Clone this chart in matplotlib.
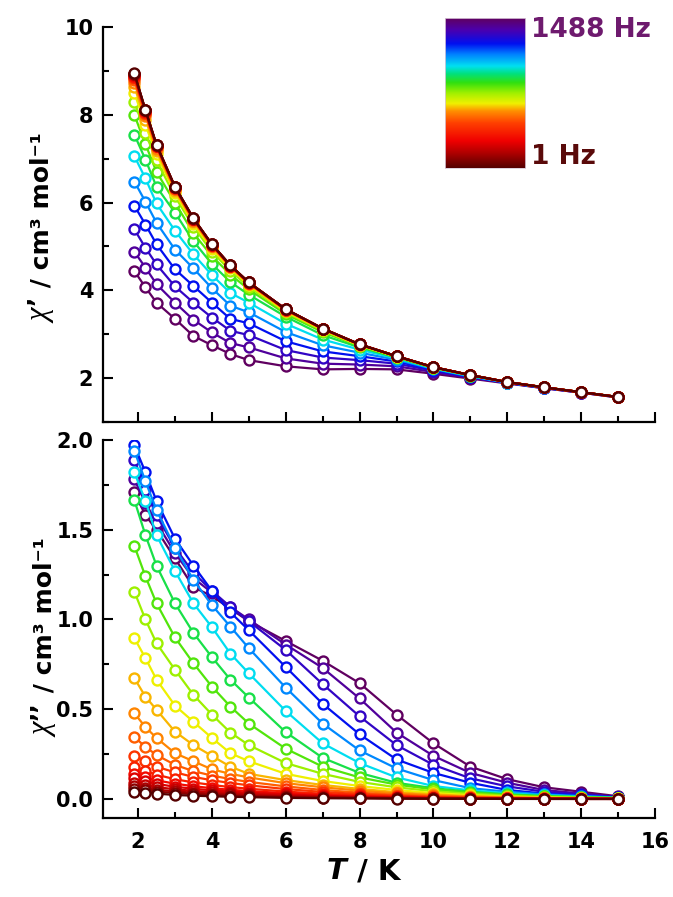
import numpy as np
import matplotlib
matplotlib.use("Agg")
import matplotlib.pyplot as plt
from matplotlib.colors import LinearSegmentedColormap
from matplotlib.ticker import MultipleLocator, FormatStrFormatter

plt.rcParams['font.family'] = ['DejaVu Sans']
plt.rcParams['font.weight'] = 'bold'

# ---------------- data ----------------
temperatures = [1.9, 2.2, 2.5, 3, 3.5, 4, 4.5, 5, 6, 7, 8, 9, 10, 11, 12, 13, 14, 15]
frequencies = [1, 1.5, 2, 3, 4.5, 6.5, 10, 14, 20, 30, 45, 65, 95, 140, 200,
               300, 440, 640, 940, 1200, 1488]

# chi' : one row per temperature, columns = frequencies (1 Hz ... 1488 Hz)
chi1_by_T = [
    [8.95, 8.94, 8.93, 8.92, 8.90, 8.88, 8.86, 8.83, 8.79, 8.73, 8.64, 8.50, 8.30, 8.00, 7.55, 7.06, 6.48, 5.93, 5.39, 4.88, 4.44],
    [8.11, 8.11, 8.10, 8.10, 8.09, 8.08, 8.07, 8.05, 8.02, 7.97, 7.89, 7.77, 7.58, 7.33, 6.98, 6.55, 6.02, 5.50, 4.97, 4.52, 4.07],
    [7.32, 7.32, 7.31, 7.31, 7.30, 7.30, 7.29, 7.28, 7.26, 7.23, 7.18, 7.10, 6.96, 6.70, 6.36, 5.98, 5.54, 5.05, 4.59, 4.14, 3.72],
    [6.36, 6.36, 6.36, 6.35, 6.35, 6.35, 6.34, 6.33, 6.32, 6.30, 6.27, 6.22, 6.14, 6.00, 5.77, 5.36, 4.93, 4.48, 4.09, 3.72, 3.35],
    [5.64, 5.64, 5.64, 5.63, 5.63, 5.63, 5.62, 5.62, 5.61, 5.59, 5.56, 5.52, 5.45, 5.30, 5.12, 4.82, 4.50, 4.10, 3.72, 3.33, 2.96],
    [5.05, 5.05, 5.05, 5.05, 5.04, 5.04, 5.04, 5.03, 5.02, 5.01, 4.99, 4.95, 4.88, 4.78, 4.60, 4.35, 4.05, 3.72, 3.38, 3.04, 2.75],
    [4.57, 4.57, 4.57, 4.57, 4.56, 4.56, 4.56, 4.56, 4.55, 4.54, 4.53, 4.50, 4.45, 4.36, 4.19, 3.94, 3.65, 3.35, 3.08, 2.80, 2.55],
    [4.18, 4.18, 4.18, 4.18, 4.18, 4.17, 4.17, 4.17, 4.16, 4.15, 4.14, 4.12, 4.08, 4.02, 3.90, 3.72, 3.50, 3.25, 2.98, 2.70, 2.41],
    [3.57, 3.57, 3.57, 3.57, 3.57, 3.57, 3.56, 3.56, 3.56, 3.55, 3.54, 3.52, 3.50, 3.46, 3.40, 3.24, 3.05, 2.84, 2.64, 2.45, 2.27],
    [3.13, 3.13, 3.13, 3.13, 3.13, 3.13, 3.13, 3.12, 3.12, 3.12, 3.11, 3.10, 3.08, 3.05, 2.98, 2.88, 2.75, 2.61, 2.47, 2.33, 2.20],
    [2.77, 2.77, 2.77, 2.77, 2.77, 2.77, 2.77, 2.77, 2.77, 2.76, 2.76, 2.75, 2.74, 2.73, 2.70, 2.65, 2.58, 2.50, 2.41, 2.31, 2.21],
    [2.50, 2.50, 2.50, 2.50, 2.50, 2.50, 2.50, 2.50, 2.50, 2.50, 2.50, 2.49, 2.49, 2.48, 2.47, 2.45, 2.42, 2.38, 2.33, 2.27, 2.20],
    [2.25, 2.25, 2.25, 2.25, 2.25, 2.25, 2.25, 2.25, 2.25, 2.25, 2.25, 2.25, 2.24, 2.24, 2.23, 2.22, 2.21, 2.19, 2.17, 2.14, 2.10],
    [2.07, 2.07, 2.07, 2.07, 2.07, 2.07, 2.07, 2.07, 2.07, 2.07, 2.07, 2.07, 2.07, 2.06, 2.06, 2.05, 2.04, 2.03, 2.02, 2.01, 1.99],
    [1.91, 1.91, 1.91, 1.91, 1.91, 1.91, 1.91, 1.91, 1.91, 1.91, 1.91, 1.91, 1.91, 1.91, 1.91, 1.90, 1.90, 1.90, 1.89, 1.89, 1.88],
    [1.79, 1.79, 1.79, 1.79, 1.79, 1.79, 1.79, 1.79, 1.79, 1.79, 1.79, 1.79, 1.79, 1.79, 1.79, 1.79, 1.78, 1.78, 1.78, 1.77, 1.77],
    [1.68, 1.68, 1.68, 1.68, 1.68, 1.68, 1.68, 1.68, 1.68, 1.68, 1.68, 1.68, 1.68, 1.68, 1.68, 1.68, 1.68, 1.68, 1.67, 1.67, 1.67],
    [1.57, 1.57, 1.57, 1.57, 1.57, 1.57, 1.57, 1.57, 1.57, 1.57, 1.57, 1.57, 1.57, 1.57, 1.57, 1.57, 1.57, 1.57, 1.57, 1.56, 1.56],
]

# chi'' : one row per frequency (1 Hz ... 1488 Hz), columns = temperatures
chi2_by_f = [
    [0.040, 0.035, 0.030, 0.022, 0.018, 0.015, 0.012, 0.010, 0.006, 0.004, 0.003, 0.002, 0.001, 0.001, 0.000, 0.000, 0.000, 0.000],
    [0.055, 0.048, 0.041, 0.033, 0.027, 0.022, 0.018, 0.015, 0.010, 0.007, 0.005, 0.003, 0.002, 0.001, 0.001, 0.000, 0.000, 0.000],
    [0.070, 0.060, 0.052, 0.042, 0.035, 0.030, 0.025, 0.021, 0.014, 0.010, 0.007, 0.004, 0.003, 0.002, 0.001, 0.001, 0.000, 0.000],
    [0.090, 0.077, 0.066, 0.054, 0.045, 0.038, 0.032, 0.027, 0.019, 0.013, 0.009, 0.006, 0.004, 0.002, 0.001, 0.001, 0.000, 0.000],
    [0.115, 0.098, 0.084, 0.068, 0.057, 0.048, 0.041, 0.035, 0.025, 0.017, 0.012, 0.008, 0.005, 0.003, 0.002, 0.001, 0.001, 0.000],
    [0.140, 0.120, 0.104, 0.085, 0.071, 0.060, 0.051, 0.044, 0.032, 0.022, 0.015, 0.010, 0.006, 0.004, 0.002, 0.001, 0.001, 0.000],
    [0.180, 0.155, 0.135, 0.110, 0.092, 0.078, 0.066, 0.057, 0.041, 0.029, 0.020, 0.013, 0.008, 0.005, 0.003, 0.002, 0.001, 0.001],
    [0.240, 0.210, 0.180, 0.148, 0.123, 0.104, 0.089, 0.076, 0.055, 0.039, 0.027, 0.018, 0.011, 0.007, 0.004, 0.003, 0.002, 0.001],
    [0.345, 0.290, 0.245, 0.190, 0.155, 0.130, 0.111, 0.095, 0.070, 0.050, 0.035, 0.023, 0.015, 0.010, 0.006, 0.004, 0.002, 0.001],
    [0.478, 0.400, 0.340, 0.255, 0.210, 0.165, 0.140, 0.120, 0.088, 0.065, 0.046, 0.031, 0.020, 0.013, 0.008, 0.005, 0.003, 0.002],
    [0.673, 0.570, 0.497, 0.375, 0.300, 0.240, 0.180, 0.140, 0.105, 0.078, 0.056, 0.038, 0.025, 0.016, 0.010, 0.006, 0.004, 0.002],
    [0.896, 0.785, 0.665, 0.520, 0.430, 0.340, 0.255, 0.210, 0.140, 0.100, 0.072, 0.050, 0.033, 0.021, 0.013, 0.008, 0.005, 0.003],
    [1.155, 1.000, 0.868, 0.720, 0.580, 0.470, 0.370, 0.300, 0.200, 0.140, 0.095, 0.065, 0.043, 0.028, 0.018, 0.011, 0.007, 0.004],
    [1.410, 1.240, 1.090, 0.900, 0.756, 0.626, 0.515, 0.420, 0.280, 0.180, 0.120, 0.080, 0.053, 0.035, 0.022, 0.014, 0.009, 0.005],
    [1.665, 1.470, 1.300, 1.090, 0.925, 0.790, 0.665, 0.565, 0.372, 0.229, 0.145, 0.090, 0.060, 0.040, 0.026, 0.017, 0.011, 0.006],
    [1.820, 1.660, 1.470, 1.270, 1.090, 0.957, 0.810, 0.700, 0.490, 0.310, 0.200, 0.120, 0.072, 0.048, 0.032, 0.020, 0.013, 0.007],
    [1.940, 1.770, 1.610, 1.400, 1.220, 1.080, 0.960, 0.840, 0.620, 0.420, 0.270, 0.170, 0.105, 0.060, 0.040, 0.025, 0.016, 0.008],
    [1.970, 1.820, 1.660, 1.450, 1.300, 1.160, 1.040, 0.940, 0.735, 0.530, 0.360, 0.220, 0.145, 0.090, 0.050, 0.030, 0.020, 0.010],
    [1.890, 1.720, 1.580, 1.400, 1.260, 1.160, 1.070, 0.990, 0.830, 0.640, 0.460, 0.300, 0.190, 0.115, 0.070, 0.040, 0.025, 0.010],
    [1.780, 1.650, 1.540, 1.370, 1.230, 1.150, 1.070, 1.000, 0.860, 0.730, 0.560, 0.370, 0.240, 0.145, 0.090, 0.050, 0.030, 0.010],
    [1.710, 1.580, 1.500, 1.340, 1.180, 1.130, 1.060, 0.990, 0.880, 0.770, 0.645, 0.470, 0.310, 0.180, 0.110, 0.065, 0.040, 0.015],
]

# ---------------- style ----------------
cmap_nodes = [(0.00, '#550000'), (0.10, '#b00000'), (0.18, '#f00000'), (0.30, '#ff4000'),
              (0.38, '#ff9000'), (0.43, '#f0f000'), (0.50, '#a0f000'), (0.57, '#30e010'),
              (0.63, '#00e080'), (0.68, '#00e0f0'), (0.76, '#0080ff'), (0.83, '#0010f0'),
              (0.92, '#4a00b0'), (1.00, '#600060')]
cmap = LinearSegmentedColormap.from_list('acmap', cmap_nodes)
color_pos = [0.0, 0.06, 0.10, 0.13, 0.16, 0.20, 0.24, 0.28, 0.33, 0.37, 0.40,
             0.43, 0.50, 0.55, 0.60, 0.68, 0.75, 0.83, 0.89, 0.94, 1.0]

T = np.array(temperatures)
chi1 = np.array(chi1_by_T).T   # -> rows per frequency
chi2 = np.array(chi2_by_f)

fig = plt.figure(figsize=(6.73, 8.97), dpi=100)
ax1 = fig.add_axes([0.153, 0.5295, 0.8202, 0.4404])
ax2 = fig.add_axes([0.153, 0.0881, 0.8202, 0.4214])

n = len(frequencies)
for i in range(n - 1, -1, -1):
    c = cmap(color_pos[i])
    kw = dict(color=c, lw=1.6, marker='o', ms=7.2, mfc='white', mec=c, mew=1.7)
    ax1.plot(T, chi1[i], **kw)
    ax2.plot(T, chi2[i], **kw)

for ax in (ax1, ax2):
    for s in ('top', 'right'):
        ax.spines[s].set_visible(False)
    for s in ('left', 'bottom'):
        ax.spines[s].set_linewidth(1.6)
    ax.set_xlim(1.05, 16)
    ax.xaxis.set_major_locator(MultipleLocator(2))
    ax.xaxis.set_minor_locator(MultipleLocator(1))
    ax.tick_params(which='both', direction='in', width=1.5, labelsize=15)
    ax.tick_params(which='major', length=7)
    ax.tick_params(which='minor', length=4)
    ax.tick_params(axis='y', pad=7)
    ax.tick_params(axis='x', pad=10)
    for lab in ax.get_xticklabels() + ax.get_yticklabels():
        lab.set_fontweight('bold')

ax1.set_ylim(1.0, 10.0)
ax1.yaxis.set_major_locator(MultipleLocator(2))
ax1.yaxis.set_minor_locator(MultipleLocator(1))
ax1.tick_params(axis='x', labelbottom=False)
ax1.set_yticks([2, 4, 6, 8, 10])

ax2.set_ylim(-0.106, 2.0)
ax2.yaxis.set_major_locator(MultipleLocator(0.5))
ax2.yaxis.set_minor_locator(MultipleLocator(0.25))
ax2.yaxis.set_major_formatter(FormatStrFormatter('%.1f'))
ax2.set_xticks([2, 4, 6, 8, 10, 12, 14, 16])


def ylabel(xc, ybottom, prime):
    chi = fig.text(xc, ybottom, "\u03c7", rotation=90, ha='center', va='bottom',
                   fontsize=22, family='Liberation Serif', style='italic',
                   fontweight='normal')
    pr = plt.annotate(prime, xy=(0.5, 1.0), xycoords=chi, xytext=(-3, 3),
                      textcoords='offset points', rotation=90, ha='center',
                      va='bottom', fontsize=18, fontweight='bold',
                      annotation_clip=False)
    plt.annotate(" / cm\u00b3 mol\u207b\u00b9", xy=(0.5, 1.0), xycoords=pr,
                 xytext=(3, 0), textcoords='offset points', rotation=90,
                 ha='center', va='bottom', fontsize=18, fontweight='bold',
                 annotation_clip=False)


ylabel(0.062, 0.640, "\u2019")
ylabel(0.066, 0.178, "\u2019\u2019")

tT = fig.text(0.515, 0.013, "T", ha='right', va='bottom', fontsize=21,
              fontweight='bold', style='italic')
plt.annotate(" / K", xy=(1.0, 0.0), xycoords=tT, ha='left', va='bottom',
             fontsize=21, fontweight='bold', annotation_clip=False)

# colour scale
cax = fig.add_axes([0.661, 0.8127, 0.119, 0.167])
cax.imshow(np.linspace(0, 1, 256)[:, None], aspect='auto', cmap=cmap, origin='lower')
cax.set_xticks([])
cax.set_yticks([])
for s in cax.spines.values():
    s.set_linewidth(0.6)
    s.set_color('#d8c8d8')
fig.text(0.789, 0.966, f"{frequencies[-1]} Hz", color='#6e1a6e', fontsize=19,
         fontweight='bold', va='center', ha='left')
fig.text(0.789, 0.825, f"{frequencies[0]} Hz", color='#5a0a0a', fontsize=19,
         fontweight='bold', va='center', ha='left')

fig.savefig('out.png', dpi=100)
